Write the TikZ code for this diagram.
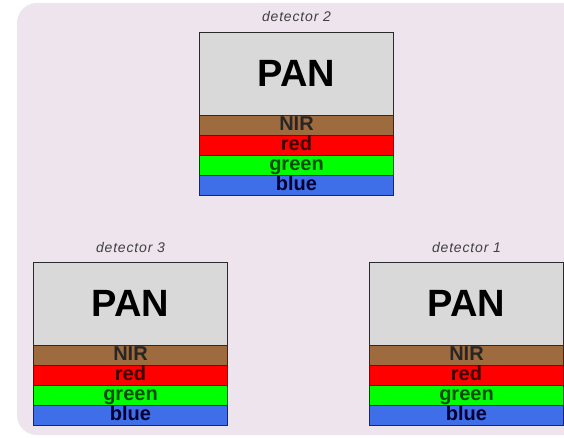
\documentclass[tikz,border=0pt]{standalone}
\usepackage{fontspec}
\setmainfont{Liberation Sans}
\definecolor{bgc}{HTML}{EEE4EE}
\definecolor{panc}{HTML}{D9D9D9}
\definecolor{nirc}{HTML}{9E6B3E}
\definecolor{redc}{HTML}{FF0000}
\definecolor{greenc}{HTML}{00FF00}
\definecolor{bluec}{HTML}{3F6FE8}
\definecolor{edgec}{HTML}{2A2A2A}
\begin{document}
\begin{tikzpicture}[x=1pt,y=-1pt,
  layer/.style={draw=edgec, line width=0.9pt, minimum width=194pt, inner sep=0pt, outer sep=0pt, anchor=north},
  panbox/.style={layer, fill=panc, minimum height=83pt, font=\fontsize{38}{38}\bfseries\selectfont, text=black},
  band/.style={layer, minimum height=20pt, font=\fontsize{20}{20}\bfseries\selectfont, text height=15.5pt, text depth=4.5pt},
  dlabel/.style={font=\fontsize{14}{14}\itshape\addfontfeature{LetterSpace=6}\selectfont, text=black!75}]
\useasboundingbox (0,0) rectangle (564,438);
\clip (0,0) rectangle (564,438);
\fill[bgc, rounded corners=20pt] (17,3) rectangle (620,435);
\foreach \n/\cx/\ty in {2/296.5/32, 3/130.5/262, 1/466.5/262} {
  \node[panbox] (pan\n) at (\cx,\ty) {PAN};
  \node[band, fill=nirc, text=black!85] (nir\n) at (pan\n.south) {NIR};
  \node[band, fill=redc, text=black!75!red] (red\n) at (nir\n.south) {red};
  \node[band, fill=greenc, text=black!70!green] (green\n) at (red\n.south) {green};
  \node[band, fill=bluec, text=black!80!blue] (blue\n) at (green\n.south) {blue};
  \node[dlabel, anchor=base] (lab\n) at ([yshift=10pt]pan\n.north) {detector \n};
}
\end{tikzpicture}
\end{document}
